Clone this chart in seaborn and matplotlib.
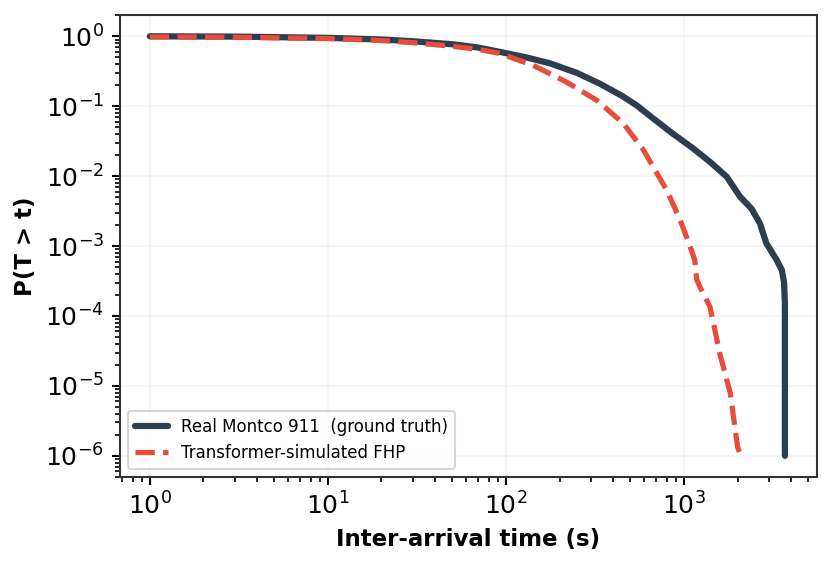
import numpy as np
import pandas as pd
import matplotlib
matplotlib.use("Agg")
import matplotlib.pyplot as plt
import seaborn as sns

# Real Montco 911 survival function (ground truth)
real_t = [1, 3, 10, 20, 30, 50, 70, 92, 130, 177, 250, 337, 450, 542, 671, 850, 1123,
          1400, 1738, 2064, 2400, 2673, 2900, 3320, 3550, 3650, 3690, 3690]
real_p = [1.0, 0.99, 0.95, 0.90, 0.85, 0.77, 0.69, 0.60, 0.50, 0.41, 0.30, 0.21, 0.14,
          0.103, 0.067, 0.042, 0.025, 0.016, 0.0098, 0.0051, 0.0034, 0.0021, 0.0011,
          6.3e-4, 4.5e-4, 3.0e-4, 1.5e-4, 1e-6]

# Transformer-simulated FHP survival function
sim_t = [1, 3, 10, 20, 30, 50, 70, 92, 142, 220, 323, 456, 590, 705, 800, 950, 1080,
         1150, 1180, 1230, 1400, 1590, 1820, 2000, 2080]
sim_p = [0.98, 0.97, 0.93, 0.87, 0.81, 0.72, 0.65, 0.57, 0.385, 0.22, 0.122, 0.057,
         0.024, 0.011, 0.0063, 0.0024, 1.0e-3, 6.3e-4, 3.3e-4, 2.6e-4, 1.35e-4,
         2.9e-5, 7.9e-6, 1.35e-6, 1e-6]

real_df = pd.DataFrame({"t": real_t, "p": real_p})
sim_df = pd.DataFrame({"t": sim_t, "p": sim_p})

sns.set_style("white")
plt.rcParams['font.family'] = ['DejaVu Sans']
plt.rcParams['text.color'] = 'black'
plt.rcParams['axes.labelcolor'] = 'black'
plt.rcParams['xtick.color'] = 'black'
plt.rcParams['ytick.color'] = 'black'

fig, ax = plt.subplots(figsize=(832 / 150, 565 / 150), dpi=150)
fig.subplots_adjust(left=0.144, right=0.982, bottom=0.156, top=0.973)

sns.lineplot(data=real_df, x="t", y="p", ax=ax, color="#2c3e50", linewidth=3.0,
             estimator=None, sort=False, label="Real Montco 911  (ground truth)")
sns.lineplot(data=sim_df, x="t", y="p", ax=ax, color="#e74c3c", linewidth=2.5,
             estimator=None, sort=False, label="Transformer-simulated FHP")
ax.lines[1].set_linestyle("--")

ax.set_xscale("log")
ax.set_yscale("log")
ax.set_xlim(0.678, 5590)
ax.set_ylim(5.0e-7, 2.0)

ax.set_xlabel("Inter-arrival time (s)", fontsize=11, fontweight="bold")
ax.set_ylabel("P(T > t)", fontsize=11, fontweight="bold")
ax.tick_params(axis="both", which="major", labelsize=12, length=4, width=1, bottom=True, left=True)
ax.tick_params(axis="both", which="minor", length=2.5, width=0.8, bottom=True, left=True)
ax.set_yticks([1e0, 1e-1, 1e-2, 1e-3, 1e-4, 1e-5, 1e-6])

ax.grid(True, which="major", color="#eeeeee", alpha=0.6, linewidth=0.8)
for s in ax.spines.values():
    s.set_color("#333333")
    s.set_linewidth(1.0)

leg = ax.legend(loc="lower left", fontsize=8, frameon=True)
leg.get_frame().set_edgecolor("#cccccc")
leg.get_lines()[1].set_linestyle("--")

fig.savefig("out.png", dpi=150)
